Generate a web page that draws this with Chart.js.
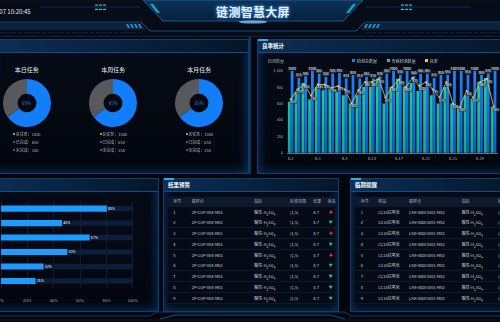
<!DOCTYPE html>
<html>
<head>
<meta charset="utf-8">
<script src="https://cdn.jsdelivr.net/npm/chart.js"></script>
<style>
html,body{margin:0;padding:0}
body{width:500px;height:322px;overflow:hidden;position:relative;background:#03060d;font-family:"Noto Sans CJK SC","Noto Sans",sans-serif;color:#cfd8e6}
.panel{position:absolute;border:1px solid #0d3f73;background:linear-gradient(#050b17,#03060d);box-shadow:inset 0 0 12px rgba(16,100,190,.55)}
.ptitle{position:absolute;left:0;right:0;top:0;height:12px;background:linear-gradient(90deg,#0c2e54,#081f3a 60%,#061628);border-bottom:1px solid #0f4e88}
.ptitle span{position:absolute;top:0;font-size:5.5px;font-weight:bold;color:#fff;line-height:12px;white-space:nowrap}
.hl{position:absolute;left:0;top:-1px;width:10px;height:2px;background:#1fb4e8}
.t{position:absolute;white-space:nowrap;line-height:1}
canvas{position:absolute}
.row{position:absolute;height:10px;background:#050b16;border-bottom:1px solid #0c1a2c}
.cell{position:absolute;font-size:4px;color:#c9d2de;white-space:nowrap;line-height:1}
</style>
</head>
<body>
<svg width="500" height="40" style="position:absolute;left:0;top:0">
  <defs>
    <linearGradient id="trap" x1="0" y1="0" x2="0" y2="1">
      <stop offset="0" stop-color="#0b3358"/><stop offset="1" stop-color="#06203c"/>
    </linearGradient>
    <linearGradient id="glow" x1="0" y1="0" x2="1" y2="0">
      <stop offset="0" stop-color="#0d4f86" stop-opacity="0.3"/><stop offset="0.5" stop-color="#7fd6ff"/><stop offset="1" stop-color="#0d4f86" stop-opacity="0.3"/>
    </linearGradient>
  </defs>
  <rect x="0" y="0" width="500" height="36" fill="#060c18"/>
  <rect x="0" y="0" width="500" height="2" fill="#0a0f18"/>
  <polygon points="143,0 363,0 343,21 163,21" fill="url(#trap)" stroke="#1b6aa8" stroke-width="0.8"/>
  <line x1="165" y1="22" x2="341" y2="22" stroke="url(#glow)" stroke-width="1.5"/>
  <ellipse cx="253" cy="22" rx="14" ry="1.6" fill="#9fe3ff" opacity="0.7"/>
  <polygon points="150,4 153,4 160,13 157,13" fill="#1ec3d8" opacity="0.8"/>
  <polygon points="356,4 353,4 346,13 349,13" fill="#1ec3d8" opacity="0.8"/>
  <line x1="40" y1="7" x2="140" y2="7" stroke="#16395c" stroke-width="0.8"/>
  <line x1="366" y1="7" x2="470" y2="7" stroke="#16395c" stroke-width="0.8"/>
  <g fill="#2bc4d8">
    <rect x="95" y="4.5" width="3" height="1.2"/><rect x="99" y="4.5" width="3" height="1.2"/><rect x="103" y="4.5" width="3" height="1.2"/>
    <rect x="95" y="8.8" width="3" height="1.2"/><rect x="99" y="8.8" width="3" height="1.2"/><rect x="103" y="8.8" width="3" height="1.2"/>
    <rect x="401" y="4.5" width="3" height="1.2"/><rect x="405" y="4.5" width="3" height="1.2"/><rect x="409" y="4.5" width="3" height="1.2"/>
    <rect x="401" y="8.8" width="3" height="1.2"/><rect x="405" y="8.8" width="3" height="1.2"/><rect x="409" y="8.8" width="3" height="1.2"/>
  </g>
  <polygon points="0,23 140,23 146,30 0,30" fill="#0a2440"/>
  <polygon points="500,23 366,23 360,30 500,30" fill="#0a2440"/>
  <g fill="#2a8fd0">
    <polygon points="126,24 128,24 130,28 128,28"/><polygon points="130,24 132,24 134,28 132,28"/><polygon points="134,24 136,24 138,28 136,28"/><polygon points="138,24 140,24 142,28 140,28"/>
    <polygon points="380,24 378,24 376,28 378,28"/><polygon points="376,24 374,24 372,28 374,28"/><polygon points="372,24 370,24 368,28 370,28"/><polygon points="368,24 366,24 364,28 366,28"/>
  </g>
  <polyline points="0,22 141,22 150,31 356,31 365,22 500,22" fill="none" stroke="#145c96" stroke-width="0.8"/>
  <line x1="0" y1="32.5" x2="140" y2="32.5" stroke="#10304f" stroke-width="0.6" stroke-dasharray="4 2"/>
  <line x1="366" y1="32.5" x2="500" y2="32.5" stroke="#10304f" stroke-width="0.6" stroke-dasharray="4 2"/>
  <line x1="0" y1="36.5" x2="500" y2="36.5" stroke="#0b2a48" stroke-width="0.8"/>
</svg>
<div class="t" style="left:-24px;top:8.5px;font-size:6px;color:#e6edf5">2023.08.07 10:20:45</div>
<div class="t" style="left:0;width:506px;top:6px;text-align:center;font-size:12px;font-weight:bold;color:#e8f2ff;letter-spacing:0.3px;text-shadow:0 0 4px #3a9bff">链测智慧大屏</div>

<div style="position:absolute;left:249px;top:36px;width:2px;height:138px;background:#0c3560"></div>

<div class="panel" style="left:-10px;top:39px;width:257px;height:133px"><div class="ptitle"><span style="left:-14px">任务统计</span></div></div>
<div class="panel" style="left:257px;top:39px;width:260px;height:133px"><div class="ptitle"><span style="left:4px">良率统计</span></div><div class="hl"></div></div>
<div class="panel" style="left:-10px;top:178px;width:167px;height:132px"><div class="ptitle"><span style="left:-14px">检测进度</span></div></div>
<div class="panel" style="left:163px;top:178px;width:174px;height:132px"><div class="ptitle"><span style="left:4px">结果预警</span></div><div class="hl"></div></div>
<div class="panel" style="left:350px;top:178px;width:170px;height:132px"><div class="ptitle"><span style="left:4px">临期提醒</span></div><div class="hl"></div></div>

<svg width="500" height="12" style="position:absolute;left:0;top:310px">
  <polyline points="0,6 150,6 156,2 345,2 351,6 500,6" fill="none" stroke="#0f3f6e" stroke-width="1"/>
  <polyline points="160,9 175,5 330,5 345,9" fill="none" stroke="#1a5f9a" stroke-width="0.8"/>
  <line x1="0" y1="10" x2="500" y2="10" stroke="#081c33" stroke-width="1"/>
</svg>

<!-- donuts -->
<canvas id="d0" width="48" height="48" style="left:2.7px;top:79.3px"></canvas>
<canvas id="d1" width="48" height="48" style="left:89.3px;top:79.3px"></canvas>
<canvas id="d2" width="48" height="48" style="left:175.3px;top:79.3px"></canvas>
<div id="donutText"></div>

<!-- yield chart -->
<div class="t" style="left:268px;top:58.5px;font-size:4px;color:#9aa6b6">检测数量</div>
<div id="yieldLegend"></div>
<canvas id="yieldChart" width="243" height="101" style="left:258px;top:62px"></canvas>

<!-- progress chart -->
<canvas id="rateChart" width="188" height="107" style="left:-40px;top:196px"></canvas>

<div id="tables"></div>

<script>
// ---- data ----
const taskTitles = ['本日任务', '本周任务', '本月任务'];
const taskTotal = [1000, 1000, 1000];
const taskDone = [650, 650, 650];
const taskUndone = [350, 350, 350];

const days = ['8-1','8-2','8-3','8-4','8-5','8-6','8-7','8-8','8-9','8-10','8-11','8-12','8-13','8-14','8-15','8-16',
  '8-17','8-18','8-19','8-20','8-21','8-22','8-23','8-24','8-25','8-26','8-27','8-28','8-29','8-30','8-31'];
const totalCount = [1000,915,935,1000,965,930,970,975,910,950,910,930,910,935,965,1000,955,1000,940,965,965,915,950,955,1000,1000,955,1000,950,970,1000];
const passCount = [625,745,855,655,805,765,805,745,705,605,705,805,805,905,605,805,905,805,855,755,805,705,605,805,605,565,705,665,865,915,565];
const yieldLine = [655,775,835,700,835,835,795,815,775,605,765,865,865,905,675,805,895,800,915,820,865,775,675,865,600,560,755,675,865,905,565];

const rateItems = ['抗氧化', '硫酸', '酸值', '水分', '粘度', '闪点'];
const rateValues = [80, 46, 67, 50, 32, 26];

const warnHead = ['序号', '取样点', '指标', '标准范围', '结果', '状态'];
const warnPoints = ['2P-CUP-004-M03','2P-CUP-004-M03','2P-CUP-004-M03','2P-CUP-004-M03','2P-CUP-004-M03','2P-CUP-004-M03','2P-CUP-004-M03','2P-CUP-004-M03','2P-CUP-004-M03'];
const warnRange = '(1,5)';
const warnResult = [4.7, 4.7, 4.7, 4.7, 4.7, 4.7, 4.7, 4.7, 4.7];
const warnUp = [true, false, true, false, true, false, false, false, false];

const dueHead = ['序号', '样品', '取样点', '指标', '标准范围'];
const dueSample = 'CC18抗氧化';
const duePoint = 'CAR-IBDES001-M02';

// ---- donuts ----
let dt = '';
taskTitles.forEach((title, i) => {
  const cx = [26.7, 113.3, 199.3][i];
  const pct = Math.round(taskDone[i] / taskTotal[i] * 100) + '%';
  dt += `<div class="t" style="left:${cx-30}px;width:60px;text-align:center;top:67px;font-size:6px;color:#e8eef6">${title}</div>`;
  dt += `<div class="t" style="left:${cx-10}px;width:20px;text-align:center;top:101.3px;font-size:4.5px;color:#1e7fe8">${pct}</div>`;
  const leg = [['#f2c230','总任务：' + taskTotal[i]], ['#137ef9','已完成：' + taskDone[i]], ['#6b6e73','未完成：' + taskUndone[i]]];
  leg.forEach((l, k) => {
    const y = [134.3, 142.3, 150][k];
    dt += `<div style="position:absolute;left:${cx-13.5}px;top:${y-1}px;width:2px;height:2px;border-radius:1px;background:${l[0]}"></div>`;
    dt += `<div class="t" style="left:${cx-11}px;top:${y-2}px;font-size:4px;color:#aab3bf">${l[1]}</div>`;
  });
  new Chart(document.getElementById('d' + i), {
    type: 'doughnut',
    data: { labels: ['已完成', '未完成'], datasets: [{ data: [taskDone[i], taskUndone[i]], backgroundColor: ['#137ef9', '#58595c'], borderWidth: 0 }] },
    options: { responsive: false, animation: false, cutout: '39%', plugins: { legend: { display: false }, tooltip: { enabled: false } } }
  });
});
document.getElementById('donutText').innerHTML = dt;

// ---- yield chart ----
const legendItems = [['#147ef5', '检测总数量', 352], ['#1ec6a4', '合格检测数量', 386.7], ['#f2c14e', '良率', 424.7]];
document.getElementById('yieldLegend').innerHTML = legendItems.map(l =>
  `<div style="position:absolute;left:${l[2]}px;top:59.2px;width:3px;height:3px;background:${l[0]}"></div>` +
  `<div class="t" style="left:${l[2]+5}px;top:58.7px;font-size:4px;color:#b7c1ce">${l[1]}</div>`).join('');

function vGrad(ctx, area, top, bottom) {
  const g = ctx.createLinearGradient(0, area.top, 0, area.bottom);
  g.addColorStop(0, top); g.addColorStop(1, bottom);
  return g;
}

const valueLabels = {
  id: 'valueLabels',
  afterDatasetsDraw(chart) {
    const ctx = chart.ctx;
    ctx.save();
    ctx.font = '3.2px "Noto Sans"';
    ctx.textAlign = 'center';
    ctx.textBaseline = 'middle';
    const tag = (txt, x, y, bg) => {
      const w = ctx.measureText(txt).width + 1.4;
      ctx.fillStyle = bg;
      ctx.fillRect(x - w / 2, y - 1.7, w, 3.4);
      ctx.fillStyle = '#dfe6ee';
      ctx.fillText(txt, x, y);
    };
    // dataset 1 = total bars, dataset 0 = yield line
    chart.getDatasetMeta(1).data.forEach((el, i) => tag(String(totalCount[i]), el.x, el.y - 2.4, 'rgba(55,62,74,0.9)'));
    chart.getDatasetMeta(0).data.forEach((el, i) => tag(String(yieldLine[i]), el.x + 2.6, el.y + 3, 'rgba(55,62,74,0.75)'));
    ctx.restore();
  }
};

new Chart(document.getElementById('yieldChart'), {
  data: {
    labels: days,
    datasets: [
      { type: 'line', label: '良率', data: yieldLine, borderColor: '#e9b84c', borderWidth: 0.9,
        pointStyle: 'rect', pointRadius: 1.3, pointBackgroundColor: '#f5c64f', pointBorderWidth: 0, order: 0, tension: 0 },
      { type: 'bar', label: '检测总数量', data: totalCount, order: 2,
        backgroundColor: c => c.chart.chartArea ? vGrad(c.chart.ctx, c.chart.chartArea, '#1a86ff', '#0b5bd0') : '#147ef5',
        categoryPercentage: 0.84, barPercentage: 0.98 },
      { type: 'bar', label: '合格检测数量', data: passCount, order: 1,
        backgroundColor: c => c.chart.chartArea ? vGrad(c.chart.ctx, c.chart.chartArea, '#22d2a6', '#14a88f') : '#1ec6a4',
        categoryPercentage: 0.84, barPercentage: 0.98 }
    ]
  },
  options: {
    responsive: false, animation: false,
    layout: { padding: { top: 9, right: 1, left: 0, bottom: 0 } },
    plugins: { legend: { display: false }, tooltip: { enabled: false } },
    scales: {
      x: {
        afterFit: s => { s.height = 10; },
        grid: { display: false, drawTicks: true, tickLength: 2 },
        border: { color: '#7d8898', width: 0.8 },
        ticks: { autoSkip: false, maxRotation: 0, padding: 1, color: '#9aa6b6', font: { size: 4 },
          callback: (v, i) => i % 4 === 0 ? days[i] : '' }
      },
      y: {
        min: 0, max: 1000,
        afterFit: s => { s.width = 29.3; },
        grid: { color: 'rgba(130,150,180,0.14)', lineWidth: 0.6, drawTicks: false },
        border: { display: false },
        ticks: { stepSize: 200, padding: 4, color: '#9aa6b6', font: { size: 4 } }
      }
    }
  },
  plugins: [valueLabels]
});
</script>
<script>
// ---- progress chart ----
const trackPlugin = {
  id: 'track',
  beforeDatasetsDraw(chart) {
    const ctx = chart.ctx, xs = chart.scales.x;
    ctx.save();
    ctx.fillStyle = '#0b1f3c';
    chart.getDatasetMeta(0).data.forEach(el => {
      ctx.fillRect(xs.getPixelForValue(0), el.y - el.height / 2, xs.getPixelForValue(100) - xs.getPixelForValue(0), el.height);
    });
    ctx.restore();
  },
  afterDatasetsDraw(chart) {
    const ctx = chart.ctx;
    ctx.save();
    ctx.font = '3.6px "Noto Sans"';
    ctx.fillStyle = '#e6edf5';
    ctx.textBaseline = 'middle';
    chart.getDatasetMeta(0).data.forEach((el, i) => ctx.fillText(rateValues[i] + '%', el.x + 1.5, el.y));
    ctx.restore();
  }
};
new Chart(document.getElementById('rateChart'), {
  type: 'bar',
  data: { labels: rateItems, datasets: [{ data: rateValues, backgroundColor: '#1a9dff', barThickness: 5.4 }] },
  options: {
    indexAxis: 'y', responsive: false, animation: false,
    layout: { padding: { top: 2.2, right: 10.7, left: 0, bottom: 0 } },
    plugins: { legend: { display: false }, tooltip: { enabled: false } },
    scales: {
      x: { min: 0, max: 100,
        afterFit: s => { s.height = 14.8; },
        grid: { color: '#17263a', lineWidth: 0.7, drawTicks: false },
        border: { display: false },
        ticks: { stepSize: 20, padding: 10, color: '#9aa6b6', font: { size: 4 }, callback: v => v + '%' } },
      y: { afterFit: s => { s.width = 41; },
        grid: { display: false }, border: { display: false },
        ticks: { color: '#9aa6b6', font: { size: 4 } } }
    }
  },
  plugins: [trackPlugin]
});

// ---- tables ----
let h = '';
function row(x, y, w, bg) {
  return `<div class="row" style="left:${x}px;top:${y}px;width:${w}px;${bg ? 'background:' + bg + ';' : ''}"></div>`;
}
function cell(x, y, txt, color) {
  return `<div class="cell" style="left:${x}px;top:${y - 2}px;${color ? 'color:' + color + ';' : ''}">${txt}</div>`;
}
const acid = '酸性-H<sub style="font-size:3px">2</sub>SO<sub style="font-size:3px">4</sub>';
const wx = [173.3, 191.7, 254.3, 290, 313.3, 327.7];
h += row(168, 196.5, 167, '#0d1a2d');
warnHead.forEach((t, k) => h += cell(wx[k], 200.7, t, '#aab6c6'));
warnPoints.forEach((p, i) => {
  const y = 211.7 + i * 10.75;
  h += row(168, y - 5.2, 167);
  h += cell(wx[0], y, String(i + 1));
  h += cell(wx[1], y, p);
  h += cell(wx[2], y, acid);
  h += cell(wx[3], y, warnRange);
  h += cell(wx[4], y, warnResult[i].toFixed(1));
  h += cell(wx[5] + 1, y, warnUp[i] ? '▲' : '▼', warnUp[i] ? '#e8343c' : '#20c8a6');
});
const dx = [360.7, 378.3, 409, 461.7, 498];
h += row(355, 196.5, 150, '#0d1a2d');
dueHead.forEach((t, k) => h += cell(dx[k], 200.7, t, '#aab6c6'));
for (let i = 0; i < 9; i++) {
  const y = 211.7 + i * 10.75;
  h += row(355, y - 5.2, 150);
  h += cell(dx[0], y, String(i + 1));
  h += cell(dx[1], y, dueSample);
  h += cell(dx[2], y, duePoint);
  h += cell(dx[3], y, acid);
  h += cell(dx[4], y, '(1,5)');
}
document.getElementById('tables').innerHTML = h;
</script>
</body>
</html>
